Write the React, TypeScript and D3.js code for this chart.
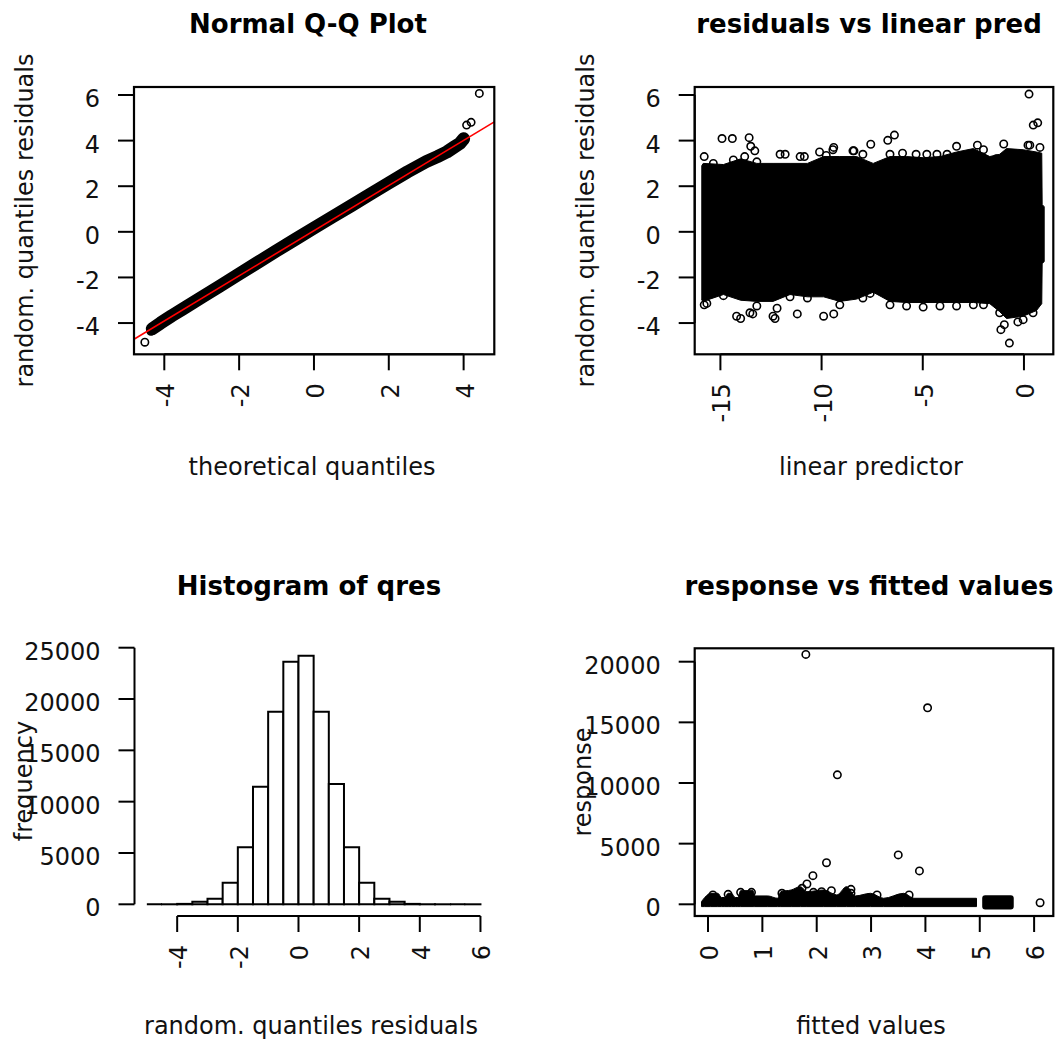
import React from 'react';
import * as d3 from 'd3';

// ---------------- data ----------------
// Panel 1: Normal Q-Q plot (dense band centre line + isolated points)
const qqTheo = [-4.32, -4.1, -3.8, -3.5, -3.0, -2.5, -2.0, -1.5, -1.0, -0.5, 0, 0.5, 1.0, 1.5, 2.0, 2.5, 3.0, 3.3, 3.55, 3.75, 3.9, 4.0];
const qqSample = [-4.25, -4.0, -3.68, -3.38, -2.87, -2.36, -1.85, -1.34, -0.83, -0.33, 0.17, 0.66, 1.15, 1.65, 2.14, 2.63, 3.08, 3.3, 3.5, 3.72, 3.88, 4.08];
const qqOutTheo = [-4.52, -4.36, 4.08, 4.2, 4.42];
const qqOutSample = [-4.84, -4.36, 4.68, 4.8, 6.07];
const qqLineIntercept = 0.05;
const qqLineSlope = 0.99;
const qqXTicks = [-4, -2, 0, 2, 4];
const resYTicks = [-4, -2, 0, 2, 4, 6];

// Panel 2: residuals vs linear predictor (envelope of dense cloud + edge points)
const lpBandX = [-15.92, -15.85, -14.85, -14.0, -13.2, -12.4, -11.56, -10.7, -9.9, -9.1, -8.27, -7.45, -6.62, -5.8, -4.98, -4.15, -3.33, -2.5, -1.69, -1.2, -0.86, -0.04, 0.62, 0.88, 0.9, 1.0];
const lpBandTop = [2.9, 3.0, 2.95, 3.2, 3.0, 3.0, 3.0, 3.0, 3.3, 3.3, 3.3, 3.0, 3.3, 3.3, 3.25, 3.3, 3.5, 3.65, 3.3, 3.4, 3.65, 3.6, 3.5, 3.45, 1.2, 1.1];
const lpBandBottom = [-3.0, -3.05, -2.75, -3.0, -3.05, -3.05, -2.75, -2.85, -2.85, -3.05, -2.95, -2.65, -3.05, -3.1, -3.1, -3.1, -3.1, -3.1, -3.15, -3.5, -3.8, -3.7, -3.45, -3.15, -1.4, -1.3];
const lpOutX = [
  -15.8, -14.92, -14.41, -13.58, -13.5, -13.3, -11.8, -10.85, -9.4, -8.4, -7.57, -6.73, -6.4, -3.33, -2.3, -1.0, 0.2, 0.46, 0.68, 0.25,
  -15.8, -14.0, -13.4, -12.3, -11.2, -9.9, -9.4, -1.14, -0.97, -0.72, -0.3,
  -15.35, -14.36, -13.8, -13.2, -12.05, -11.06, -10.1, -9.77, -9.44, -8.45, -7.96, -6.62, -6.0, -5.33, -4.8, -4.3, -3.8, -2.0, -1.36, 0.29, 0.79,
  -15.67, -14.85, -14.2, -13.54, -13.2, -12.4, -12.2, -11.56, -10.7, -9.1, -7.96, -7.6, -6.62, -5.8, -4.98, -4.15, -3.33, -2.5, -2.0, -1.2, -0.04, 0.45,
];
const lpOutY = [
  3.3, 4.09, 4.09, 4.13, 3.75, 3.55, 3.4, 3.3, 3.7, 3.55, 3.84, 4.01, 4.24, 3.75, 3.8, 3.85, 3.8, 4.68, 4.78, 6.04,
  -3.2, -3.8, -3.6, -3.8, -3.6, -3.7, -3.6, -4.29, -4.07, -4.88, -3.95,
  3.0, 3.15, 3.3, 3.07, 3.4, 3.3, 3.5, 3.35, 3.6, 3.55, 3.4, 3.4, 3.45, 3.4, 3.4, 3.4, 3.4, 3.6, 3.2, 3.8, 3.7,
  -3.14, -2.8, -3.7, -3.55, -3.25, -3.7, -3.35, -2.85, -2.9, -3.2, -2.9, -2.7, -3.2, -3.25, -3.3, -3.25, -3.25, -3.2, -3.2, -3.55, -3.85, -3.55,
];
const lpXTicks = [-15, -10, -5, 0];

// Panel 3: histogram of qres
const histBreaks = [-5, -4.5, -4, -3.5, -3, -2.5, -2, -1.5, -1, -0.5, 0, 0.5, 1, 1.5, 2, 2.5, 3, 3.5, 4, 4.5, 5, 5.5, 6];
const histCounts = [0, 3, 40, 250, 550, 2110, 5550, 11460, 18770, 23640, 24220, 18770, 11720, 5550, 2110, 540, 250, 40, 5, 2, 0, 1];
const histXTicks = [-4, -2, 0, 2, 4, 6];
const histYTicks = [0, 5000, 10000, 15000, 20000, 25000];

// Panel 4: response vs fitted values
const fitBandX = [-0.12, -0.06, 0.05, 0.18, 0.25, 0.31, 0.37, 0.43, 0.5, 0.55, 0.6, 0.83, 0.86, 1.1, 1.28, 1.34, 1.53, 1.7, 1.82, 2.13, 2.37, 2.55, 2.71, 2.99, 3.23, 3.6, 3.79, 4.94];
const fitBandTop = [220, 560, 907, 907, 560, 560, 907, 907, 560, 560, 1127, 1127, 690, 690, 495, 1040, 1180, 1456, 1040, 1180, 770, 1456, 690, 907, 495, 907, 495, 495];
const fitBand2X = [5.1, 5.57];
const fitBand2Top = [495, 495];
const fitBandFloor = -190;
const fitOutX = [1.80, 4.04, 2.38, 3.50, 2.18, 3.89, 1.93, 6.11, 0.09, 0.37, 0.6, 0.8, 1.36, 1.73, 1.82, 1.94, 2.09, 2.27, 2.63, 2.63, 3.11, 3.7, 5.44];
const fitOutY = [20600, 16200, 10670, 4070, 3430, 2750, 2360, 130, 767, 820, 985, 985, 907, 1319, 1676, 985, 1040, 1127, 1236, 907, 770, 770, 130];
const fitXTicks = [0, 1, 2, 3, 4, 5, 6];
const fitYTicks = [0, 5000, 10000, 15000, 20000];

// ---------------- layout ----------------
const W = 1064;
const H = 1044;
const FONT = '"DejaVu Sans", sans-serif';
const FS = 24;
const TICK = 16;
const PT_R = 3.7;
const PT_W = 1.6;

const P1 = { left: 134, right: 494.3, top: 87, bottom: 354.3 };
const P2 = { left: 694.7, right: 1053.3, top: 87, bottom: 354.3 };
const P3 = { left: 134.5, right: 494, top: 648.3, bottom: 916 };
const P4 = { left: 694.7, right: 1053.3, top: 648.3, bottom: 916 };

type Sc = d3.ScaleLinear<number, number>;

function YAxis({ scale, ticks, x }: { scale: Sc; ticks: number[]; x: number }) {
  return (
    <g>
      <line x1={x} x2={x} y1={scale(ticks[0])} y2={scale(ticks[ticks.length - 1])} stroke="black" strokeWidth={2} />
      {ticks.map((t) => (
        <g key={t}>
          <line x1={x - TICK} x2={x} y1={scale(t)} y2={scale(t)} stroke="black" strokeWidth={2} />
          <text x={x - 34} y={scale(t) + 12} textAnchor="end" fontFamily={FONT} fontSize={FS} fill="#111">
            {String(t)}
          </text>
        </g>
      ))}
    </g>
  );
}

function XAxis({ scale, ticks, y }: { scale: Sc; ticks: number[]; y: number }) {
  return (
    <g>
      <line x1={scale(ticks[0])} x2={scale(ticks[ticks.length - 1])} y1={y} y2={y} stroke="black" strokeWidth={2} />
      {ticks.map((t) => (
        <g key={t}>
          <line x1={scale(t)} x2={scale(t)} y1={y} y2={y + TICK} stroke="black" strokeWidth={2} />
          <g transform={`translate(${scale(t)},${y + 29}) rotate(-90)`}>
            <text x={0} y={10} textAnchor="end" fontFamily={FONT} fontSize={FS} fill="#111">
              {String(t)}
            </text>
          </g>
        </g>
      ))}
    </g>
  );
}

function Title({ x, y, text }: { x: number; y: number; text: string }) {
  return (
    <text x={x} y={y} textAnchor="middle" fontFamily={FONT} fontWeight="bold" fontSize={26} fill="#000">
      {text}
    </text>
  );
}

function XLabel({ x, y, text }: { x: number; y: number; text: string }) {
  return (
    <text x={x} y={y} textAnchor="middle" fontFamily={FONT} fontSize={FS} fill="#111">
      {text}
    </text>
  );
}

function YLabel({ x, y, text }: { x: number; y: number; text: string }) {
  return (
    <g transform={`translate(${x},${y}) rotate(-90)`}>
      <text x={0} y={0} textAnchor="middle" fontFamily={FONT} fontSize={FS} fill="#111">
        {text}
      </text>
    </g>
  );
}

function Box({ p }: { p: { left: number; right: number; top: number; bottom: number } }) {
  return <rect x={p.left} y={p.top} width={p.right - p.left} height={p.bottom - p.top} fill="none" stroke="black" strokeWidth={2.2} />;
}

export default function App() {
  const x1 = d3.scaleLinear().domain([-4.81, 4.82]).range([P1.left, P1.right]);
  const y1 = d3.scaleLinear().domain([-5.37, 6.35]).range([P1.bottom, P1.top]);
  const x2 = d3.scaleLinear().domain([-16.27, 1.45]).range([P2.left, P2.right]);
  const y2 = d3.scaleLinear().domain([-5.37, 6.35]).range([P2.bottom, P2.top]);
  const x3 = d3.scaleLinear().domain([-5.44, 6.44]).range([133.5, 493.8]);
  const y3 = d3.scaleLinear().domain([0, 25000]).range([904.3, 647.7]);
  const x4 = d3.scaleLinear().domain([-0.245, 6.353]).range([P4.left, P4.right]);
  const y4 = d3.scaleLinear().domain([0, 20000]).range([904.3, 661.7]);

  const qqPath = d3.line<number>().x((_, i) => x1(qqTheo[i])).y((d) => y1(d))(qqSample) || '';
  const lineX0 = x1.domain()[0];
  const lineX1 = x1.domain()[1];

  const lpArea =
    d3
      .area<number>()
      .x((d) => x2(d))
      .y0((_, i) => y2(lpBandBottom[i]))
      .y1((_, i) => y2(lpBandTop[i]))(lpBandX) || '';

  const fitArea =
    d3
      .area<number>()
      .x((d) => x4(d))
      .y0(() => y4(fitBandFloor))
      .y1((_, i) => y4(fitBandTop[i]))
      .curve(d3.curveMonotoneX)(fitBandX) || '';
  const fitArea2 =
    d3
      .area<number>()
      .x((d) => x4(d))
      .y0(() => y4(fitBandFloor))
      .y1((_, i) => y4(fitBand2Top[i]))(fitBand2X) || '';

  return (
    <svg width={W} height={H} style={{ position: 'absolute', left: 0, top: 0, background: '#fff' }}>
      <defs>
        <clipPath id="c1">
          <rect x={P1.left} y={P1.top} width={P1.right - P1.left} height={P1.bottom - P1.top} />
        </clipPath>
        <clipPath id="c2">
          <rect x={P2.left} y={P2.top} width={P2.right - P2.left} height={P2.bottom - P2.top} />
        </clipPath>
        <clipPath id="c4">
          <rect x={P4.left} y={P4.top} width={P4.right - P4.left} height={P4.bottom - P4.top} />
        </clipPath>
      </defs>
      <rect x={0} y={0} width={W} height={H} fill="#fff" />

      {/* Panel 1 */}
      <g clipPath="url(#c1)">
        <path d={qqPath} fill="none" stroke="black" strokeWidth={13} strokeLinecap="round" strokeLinejoin="round" />
        {qqOutTheo.map((t, i) => (
          <circle key={i} cx={x1(t)} cy={y1(qqOutSample[i])} r={PT_R} fill="none" stroke="black" strokeWidth={PT_W} />
        ))}
        <line
          x1={x1(lineX0)}
          x2={x1(lineX1)}
          y1={y1(qqLineIntercept + qqLineSlope * lineX0)}
          y2={y1(qqLineIntercept + qqLineSlope * lineX1)}
          stroke="#ff0000"
          strokeWidth={1.6}
        />
      </g>
      <Box p={P1} />
      <YAxis scale={y1} ticks={resYTicks} x={P1.left} />
      <XAxis scale={x1} ticks={qqXTicks} y={P1.bottom} />
      <Title x={308} y={33} text="Normal Q-Q Plot" />
      <XLabel x={312} y={475} text="theoretical quantiles" />
      <YLabel x={33} y={220.5} text="random. quantiles residuals" />

      {/* Panel 2 */}
      <g clipPath="url(#c2)">
        <path d={lpArea} fill="black" stroke="black" strokeWidth={1} />
        {lpOutX.map((t, i) => (
          <circle key={i} cx={x2(t)} cy={y2(lpOutY[i])} r={PT_R} fill="none" stroke="black" strokeWidth={PT_W} />
        ))}
      </g>
      <Box p={P2} />
      <YAxis scale={y2} ticks={resYTicks} x={P2.left} />
      <XAxis scale={x2} ticks={lpXTicks} y={P2.bottom} />
      <Title x={869} y={33} text="residuals vs linear pred" />
      <XLabel x={871} y={475} text="linear predictor" />
      <YLabel x={594} y={220.5} text="random. quantiles residuals" />

      {/* Panel 3 */}
      {histCounts.map((c, i) => {
        const xa = x3(histBreaks[i]);
        const xb = x3(histBreaks[i + 1]);
        const yb = y3(0);
        const yt = y3(c);
        return (
          <path
            key={i}
            d={`M${xa},${yb}V${yt}H${xb}V${yb}Z`}
            fill="#fff"
            stroke="black"
            strokeWidth={2}
          />
        );
      })}
      <YAxis scale={y3} ticks={histYTicks} x={P3.left} />
      <XAxis scale={x3} ticks={histXTicks} y={P3.bottom} />
      <Title x={309} y={595} text="Histogram of qres" />
      <XLabel x={311} y={1034} text="random. quantiles residuals" />
      <YLabel x={32} y={781} text="frequency" />

      {/* Panel 4 */}
      <g clipPath="url(#c4)">
        <path d={fitArea} fill="black" stroke="black" strokeWidth={1} />
        <path d={fitArea2} fill="black" stroke="black" strokeWidth={6} strokeLinejoin="round" />
        {fitOutX.map((t, i) => (
          <circle key={i} cx={x4(t)} cy={y4(fitOutY[i])} r={PT_R} fill="none" stroke="black" strokeWidth={PT_W} />
        ))}
      </g>
      <Box p={P4} />
      <YAxis scale={y4} ticks={fitYTicks} x={P4.left} />
      <XAxis scale={x4} ticks={fitXTicks} y={P4.bottom} />
      <Title x={869} y={595} text="response vs fitted values" />
      <XLabel x={871} y={1034} text="fitted values" />
      <YLabel x={591} y={782} text="response" />
    </svg>
  );
}
